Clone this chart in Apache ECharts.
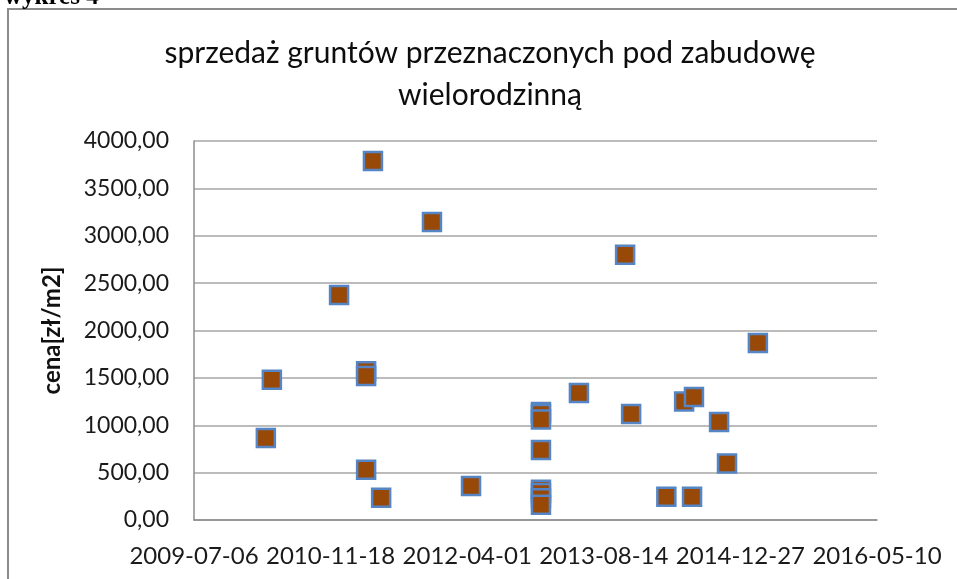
<!DOCTYPE html>
<html>
<head>
<meta charset="utf-8">
<script src="https://cdn.jsdelivr.net/npm/echarts@6/dist/echarts.min.js"></script>
<style>
  html, body { margin: 0; padding: 0; background: #fff; }
  #main { width: 957px; height: 579px; }
</style>
</head>
<body>
<div id="main"></div>
<script>
// daty transakcji i ceny [zł/m2]
var dates = [
    '2010-03-26', '2010-04-17', '2010-12-19', '2011-03-28', '2011-03-28',
    '2011-03-28', '2011-04-22', '2011-05-22', '2011-11-24', '2012-04-15',
    '2012-12-27', '2012-12-27', '2012-12-27', '2012-12-27', '2012-12-27',
    '2012-12-27', '2012-12-27', '2012-12-27', '2013-05-15', '2013-10-31',
    '2013-11-22', '2014-03-31', '2014-06-04', '2014-07-03', '2014-07-10',
    '2014-10-10', '2014-11-08', '2015-03-01'
];
var prices = [
    865, 1480, 2375, 1570, 1520,
    530, 3790, 235, 3145, 360,
    1140, 1120, 1060, 740, 320,
    285, 230, 160, 1340, 2800,
    1118, 245, 1250, 245, 1298,
    1035, 595, 1868
];
var xTickStart = '2009-07-06';
var xTickEnd = '2016-05-10';
var xTickStepDays = 500;

var title = 'sprzedaż gruntów przeznaczonych pod zabudowę\nwielorodzinną';
var yName = 'cena[zł/m2]';

// numer seryjny daty jak w Excelu (40000 = 2009-07-06)
var DAY = 86400000;
var EPOCH = Date.UTC(1899, 11, 30);
function toSerial(s) {
    var p = s.split('-');
    return Math.round((Date.UTC(+p[0], +p[1] - 1, +p[2]) - EPOCH) / DAY);
}
function fromSerial(v) {
    return new Date(EPOCH + v * DAY).toISOString().slice(0, 10);
}

var points = dates.map(function (d, i) { return [toSerial(d), prices[i]]; });

var chart = echarts.init(document.getElementById('main'));

var option = {
    backgroundColor: '#fff',
    animation: false,
    textStyle: { fontFamily: 'Lato' },
    graphic: [
        {
            type: 'rect',
            shape: { x: 8, y: 9, width: 1000, height: 700 },
            style: { fill: 'none', stroke: '#8c8c8c', lineWidth: 2 },
            silent: true
        },
        {
            // podpis nad ramką, ucięty u góry jak na zrzucie
            type: 'text',
            x: 4, y: 10,
            style: {
                text: 'wykres 4',
                font: 'bold 25px "Liberation Serif"',
                fill: '#000',
                verticalAlign: 'bottom'
            }
        },
        {
            type: 'text',
            x: 490, y: 32,
            style: {
                text: title,
                font: '30px Lato',
                fill: '#0d0d0d',
                align: 'center',
                lineHeight: 42
            }
        }
    ],
    grid: {
        left: 194,
        right: 80,
        top: 141,
        bottom: 59,
        containLabel: false
    },
    xAxis: {
        type: 'value',
        min: toSerial(xTickStart),
        max: toSerial(xTickEnd),
        interval: xTickStepDays,
        axisLine: { show: true, onZero: false, lineStyle: { color: '#8c8c8c', width: 1.5 } },
        axisTick: { show: false },
        splitLine: { show: false },
        axisLabel: {
            margin: 24,
            fontSize: 24,
            color: '#1a1a1a',
            formatter: function (v) { return fromSerial(v); }
        }
    },
    yAxis: {
        type: 'value',
        min: 0,
        max: 4000,
        interval: 500,
        name: yName,
        nameLocation: 'middle',
        nameGap: 130,
        nameTextStyle: { fontSize: 24, fontWeight: 'bold', color: '#111' },
        axisLine: { show: true, lineStyle: { color: '#8c8c8c', width: 1.5 } },
        axisTick: { show: false },
        splitLine: { show: true, lineStyle: { color: '#a6a6a6', width: 1.5 } },
        axisLabel: {
            margin: 25,
            fontSize: 23,
            color: '#1a1a1a',
            formatter: function (v) { return v.toFixed(2).replace('.', ','); }
        }
    },
    series: [
        {
            type: 'scatter',
            data: points,
            symbol: 'rect',
            symbolSize: 18,
            itemStyle: {
                color: '#984807',
                borderColor: '#5585c4',
                borderWidth: 2.5,
                opacity: 1
            }
        }
    ]
};

chart.setOption(option);
</script>
</body>
</html>
